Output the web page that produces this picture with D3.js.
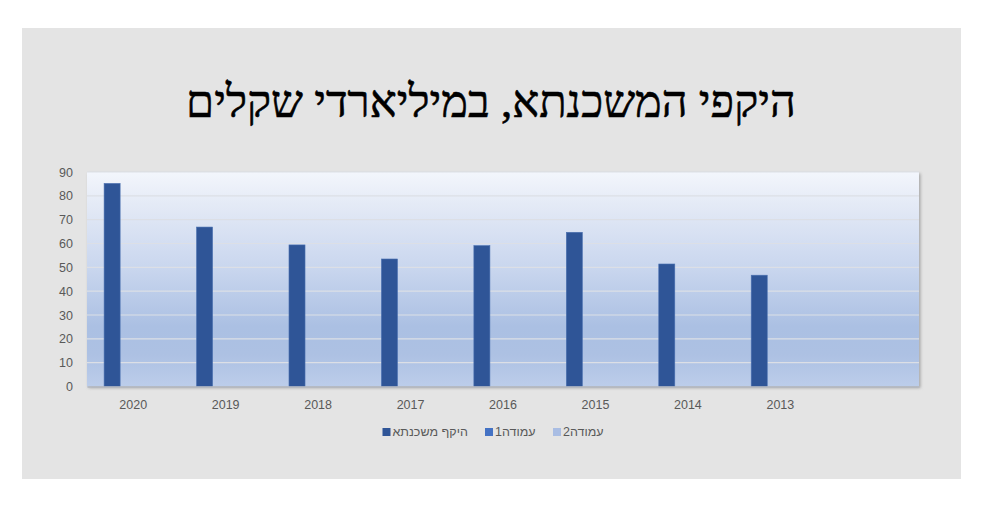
<!DOCTYPE html>
<html>
<head>
<meta charset="utf-8">
<style>
    body { margin: 0; background: #fff; }
    .tick text { font-family: "Liberation Sans", Arial, sans-serif; font-size: 12.5px; fill: #595959; }
</style>
<script src="https://cdn.jsdelivr.net/npm/d3@7"></script>
</head>
<body>
<script>
    // chart data
    var years = ["2020", "2019", "2018", "2017", "2016", "2015", "2014", "2013", ""];
    var mortgage = [85.2, 66.9, 59.4, 53.5, 59.1, 64.7, 51.4, 46.7, null];
    var seriesNames = ["היקף משכנתא", "עמודה1", "עמודה2"];
    var seriesColors = ["#2f5597", "#4472c4", "#a9bde3"];
    var yTicks = [0, 10, 20, 30, 40, 50, 60, 70, 80, 90];
    var title = "היקפי המשכנתא, במיליארדי שקלים";

    var W = 987, H = 506;
    var svg = d3.select("body").append("svg")
        .attr("width", W)
        .attr("height", H);

    var defs = svg.append("defs");
    var grad = defs.append("linearGradient")
        .attr("id", "plotbg")
        .attr("x1", 0).attr("y1", 0).attr("x2", 0).attr("y2", 1);
    [["0%", "#f3f6fc"], ["15%", "#e4eaf6"], ["45%", "#c9d6ee"], ["72%", "#abc0e3"], ["85%", "#adc1e3"], ["100%", "#bccdea"]]
        .forEach(function (s) {
            grad.append("stop").attr("offset", s[0]).attr("stop-color", s[1]);
        });
    var blur = defs.append("filter").attr("id", "shadow")
        .attr("x", "-5%").attr("y", "-5%").attr("width", "110%").attr("height", "110%");
    blur.append("feGaussianBlur").attr("stdDeviation", 1.5);

    // outer grey chart area
    svg.append("rect")
        .attr("x", 22).attr("y", 28)
        .attr("width", 939).attr("height", 451)
        .attr("fill", "#e4e4e4");

    // title
    var t = svg.append("text")
        .attr("x", 491)
        .attr("y", 117)
        .attr("text-anchor", "middle")
        .attr("direction", "rtl")
        .style("font-family", "'Liberation Serif', 'DejaVu Serif', serif")
        .style("font-size", "46px")
        .attr("fill", "#000")
        .attr("stroke", "#000")
        .attr("stroke-width", 0.6)
        .text(title);
    var tw = t.node().getComputedTextLength();
    t.style("font-size", (46 * 610 / tw) + "px");

    var margin = { top: 172, right: 68, bottom: 119.5, left: 87 },
        width = W - margin.left - margin.right,
        height = H - margin.top - margin.bottom;

    var g = svg.append("g").attr("transform", "translate(" + margin.left + "," + margin.top + ")");

    // plot area with soft shadow
    g.append("rect")
        .attr("x", 1.5).attr("y", 1.5)
        .attr("width", width).attr("height", height)
        .attr("fill", "#a6a6a6")
        .attr("filter", "url(#shadow)");
    g.append("rect")
        .attr("width", width).attr("height", height)
        .attr("fill", "url(#plotbg)");

    var x = d3.scaleBand()
        .domain(years.map(function (d, i) { return i; }))
        .range([0, width])
        .padding(0);

    var bw = x.bandwidth();
    var x1 = d3.scaleBand()
        .domain(seriesNames)
        .range([bw * 0.185, bw * 0.185 + bw * 0.52])
        .padding(0);

    var y = d3.scaleLinear()
        .domain([0, 90])
        .range([height, 0]);

    // gridlines
    g.append("g")
        .selectAll("line")
        .data(yTicks.slice(1))
        .enter().append("line")
        .attr("x1", 0).attr("x2", width)
        .attr("y1", function (d) { return y(d); })
        .attr("y2", function (d) { return y(d); })
        .attr("stroke", "#dcdfe6")
        .attr("stroke-width", 1.2);

    // bars
    g.selectAll(".bar")
        .data(mortgage.map(function (v, i) { return { i: i, v: v }; }).filter(function (d) { return d.v != null; }))
        .enter().append("rect")
        .attr("class", "bar")
        .attr("x", function (d) { return x(d.i) + x1(seriesNames[0]); })
        .attr("y", function (d) { return y(d.v); })
        .attr("width", x1.bandwidth())
        .attr("height", function (d) { return height - y(d.v); })
        .attr("fill", seriesColors[0])
        .attr("stroke", "#4a70b0")
        .attr("stroke-width", 0.6);

    // axes
    var yAxis = g.append("g")
        .call(d3.axisLeft(y).tickValues(yTicks).tickSize(0).tickPadding(14));
    yAxis.select(".domain").remove();

    var xAxis = g.append("g")
        .attr("transform", "translate(0," + height + ")")
        .call(d3.axisBottom(x).tickFormat(function (i) { return years[i]; }).tickSize(0).tickPadding(14));
    xAxis.select(".domain").attr("stroke", "#b4b8c0").attr("stroke-width", 1.5);

    // legend
    var legendX = [382.5, 485, 553];
    var legend = svg.append("g");
    seriesNames.forEach(function (name, i) {
        legend.append("rect")
            .attr("x", legendX[i]).attr("y", 428)
            .attr("width", 8).attr("height", 8)
            .attr("fill", seriesColors[i]);
        legend.append("text")
            .attr("x", legendX[i] + 10)
            .attr("y", 436)
            .attr("direction", "rtl")
            .attr("text-anchor", "end")
            .style("font-family", "'Liberation Sans', Arial, sans-serif")
            .style("font-size", "12.5px")
            .attr("fill", "#595959")
            .text(name);
    });
</script>
</body>
</html>
